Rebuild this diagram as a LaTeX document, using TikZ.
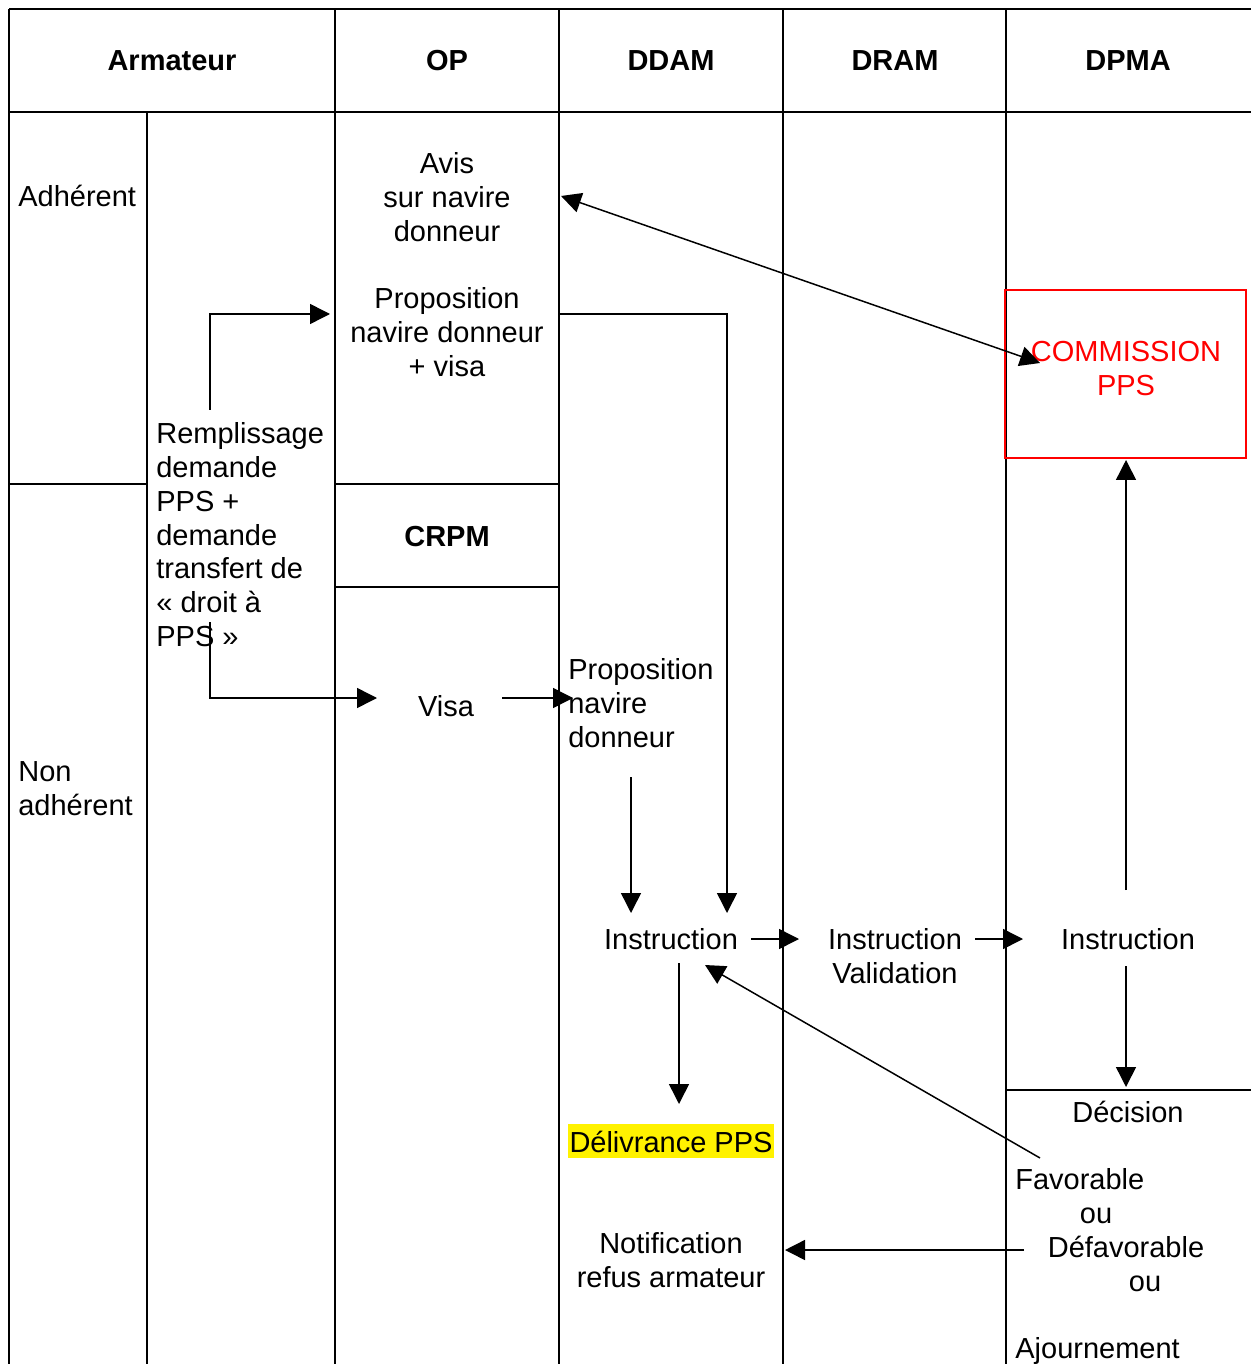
\documentclass[tikz,border=0pt]{standalone}
\usepackage{fontspec}
\setmainfont{Liberation Sans}
\usetikzlibrary{arrows.meta}

\tikzset{
  txt/.style={font=\fontsize{16.5}{19.3}\selectfont, inner sep=0pt},
  hd/.style={txt, font=\fontsize{16.5}{19.3}\selectfont\bfseries, anchor=base},
  ctr/.style={txt, align=center, anchor=north},
  lft/.style={txt, align=left, anchor=north west},
  grid/.style={line width=1.1pt},
  flow/.style={line width=0.85pt, -{Triangle[length=4mm,width=4mm]}},
  flowboth/.style={line width=0.85pt, {Triangle[length=4mm,width=4mm]}-{Triangle[length=4mm,width=4mm]}},
}

\begin{document}
\begin{tikzpicture}[x=0.02cm,y=-0.02cm]
        \useasboundingbox (0,0) rectangle (1251,1364);

        \draw[grid] (9,9) -- (1251,9);
        \draw[grid] (9,112) -- (1251,112);
        \draw[grid] (9,9) -- (9,1364);
        \draw[grid] (147,112) -- (147,1364);
        \foreach \x in {335,559,783,1006}
          \draw[grid] (\x,9) -- (\x,1364);
        \draw[grid] (9,484) -- (147,484);
        \draw[grid] (335,484) -- (559,484);
        \draw[grid] (335,587) -- (559,587);
        \draw[grid] (1006,1090) -- (1251,1090);

        \node[hd] (armateur) at (172,71) {Armateur};
        \node[hd] (op) at (447,71) {OP};
        \node[hd] (ddam) at (671,71) {DDAM};
        \node[hd] (dram) at (895,71) {DRAM};
        \node[hd] (dpma) at (1128,71) {DPMA};

        \node[txt,anchor=base west] (adh) at (18,207) {Adhérent};
        \node[lft] (nonadh) at (18,761) {Non\\adhérent};
        \node[lft] (rempl) at (156,422) {Remplissage\\demande\\PPS +\\demande\\transfert de\\« droit à\\PPS »};

        \node[ctr] (avis) at (447,152) {Avis\\sur navire\\donneur};
        \node[ctr] (propvisa) at (447,287) {Proposition\\navire donneur\\+ visa};
        \node[hd] (crpm) at (447,546) {CRPM};
        \node[txt,anchor=base] (visa) at (446,716) {Visa};

        \node[lft] (propddam) at (568,658) {Proposition\\navire\\donneur};
        \node[txt,anchor=base] (instrddam) at (671,949) {Instruction};
        \node[txt,anchor=base,fill=yellow,inner xsep=0.03cm,text height=0.56cm,text depth=0.12cm] (delivrance) at (671,1152) {Délivrance PPS};
        \node[ctr] (notif) at (671,1232) {Notification\\refus armateur};

        \node[ctr] (instrdram) at (895,928) {Instruction\\Validation};

        \node[draw=red,line width=0.8pt,minimum width=4.82cm,minimum height=3.36cm,inner sep=0pt] (commission) at (1125.5,374) {};
        \node[ctr,text=red] (commtxt) at (1126,341) {COMMISSION\\PPS};
        \node[txt,anchor=base] (instrdpma) at (1128,949) {Instruction};
        \node[txt,anchor=base] (decision) at (1128,1122) {Décision};
        \node[txt,anchor=base west] (fav) at (1015,1189) {Favorable};
        \node[txt,anchor=base] (ou1) at (1096,1223) {ou};
        \node[txt,anchor=base] (defav) at (1126,1257) {Défavorable};
        \node[txt,anchor=base] (ou2) at (1145,1291) {ou};
        \node[txt,anchor=base west] (ajourn) at (1015,1358) {Ajournement};

        \coordinate (rempl-up) at (210,410);
        \coordinate (rempl-bend-up) at (210,314);
        \coordinate (propvisa-in) at (330,314);
        \coordinate (rempl-down) at (210,622);
        \coordinate (rempl-bend-down) at (210,698);
        \coordinate (visa-in) at (377,698);
        \coordinate (visa-out) at (502,698);
        \coordinate (propddam-in) at (573,698);
        \coordinate (avis-end) at (561,196);
        \coordinate (commission-end) at (1040,363);
        \coordinate (propvisa-out) at (559,314);
        \coordinate (propvisa-bend) at (727,314);
        \coordinate (instr-in-b) at (727,913);
        \coordinate (propddam-out) at (631,777);
        \coordinate (instr-in-a) at (631,913);
        \coordinate (instrddam-out) at (751,939);
        \coordinate (instrdram-in) at (799,939);
        \coordinate (instrdram-out) at (975,939);
        \coordinate (instrdpma-in) at (1023,939);
        \coordinate (instrdpma-up) at (1126,890);
        \coordinate (commission-in) at (1126,460);
        \coordinate (instrdpma-down) at (1126,966);
        \coordinate (decision-in) at (1126,1087);
        \coordinate (instrddam-down) at (679,963);
        \coordinate (delivrance-in) at (679,1104);
        \coordinate (fav-out) at (1040,1158);
        \coordinate (instrddam-back) at (705,965);
        \coordinate (defav-out) at (1024,1250);
        \coordinate (notif-in) at (785,1250);

        \draw[flow] (rempl-up) -- (rempl-bend-up) -- (propvisa-in);
        \draw[flow] (rempl-down) -- (rempl-bend-down) -- (visa-in);
        \draw[flow] (visa-out) -- (propddam-in);
        \draw[flowboth] (avis-end) -- (commission-end);
        \draw[flow] (propvisa-out) -- (propvisa-bend) -- (instr-in-b);
        \draw[flow] (propddam-out) -- (instr-in-a);
        \draw[flow] (instrddam-out) -- (instrdram-in);
        \draw[flow] (instrdram-out) -- (instrdpma-in);
        \draw[flow] (instrdpma-up) -- (commission-in);
        \draw[flow] (instrdpma-down) -- (decision-in);
        \draw[flow] (instrddam-down) -- (delivrance-in);
        \draw[flow] (fav-out) -- (instrddam-back);
        \draw[flow] (defav-out) -- (notif-in);
\end{tikzpicture}
\end{document}
